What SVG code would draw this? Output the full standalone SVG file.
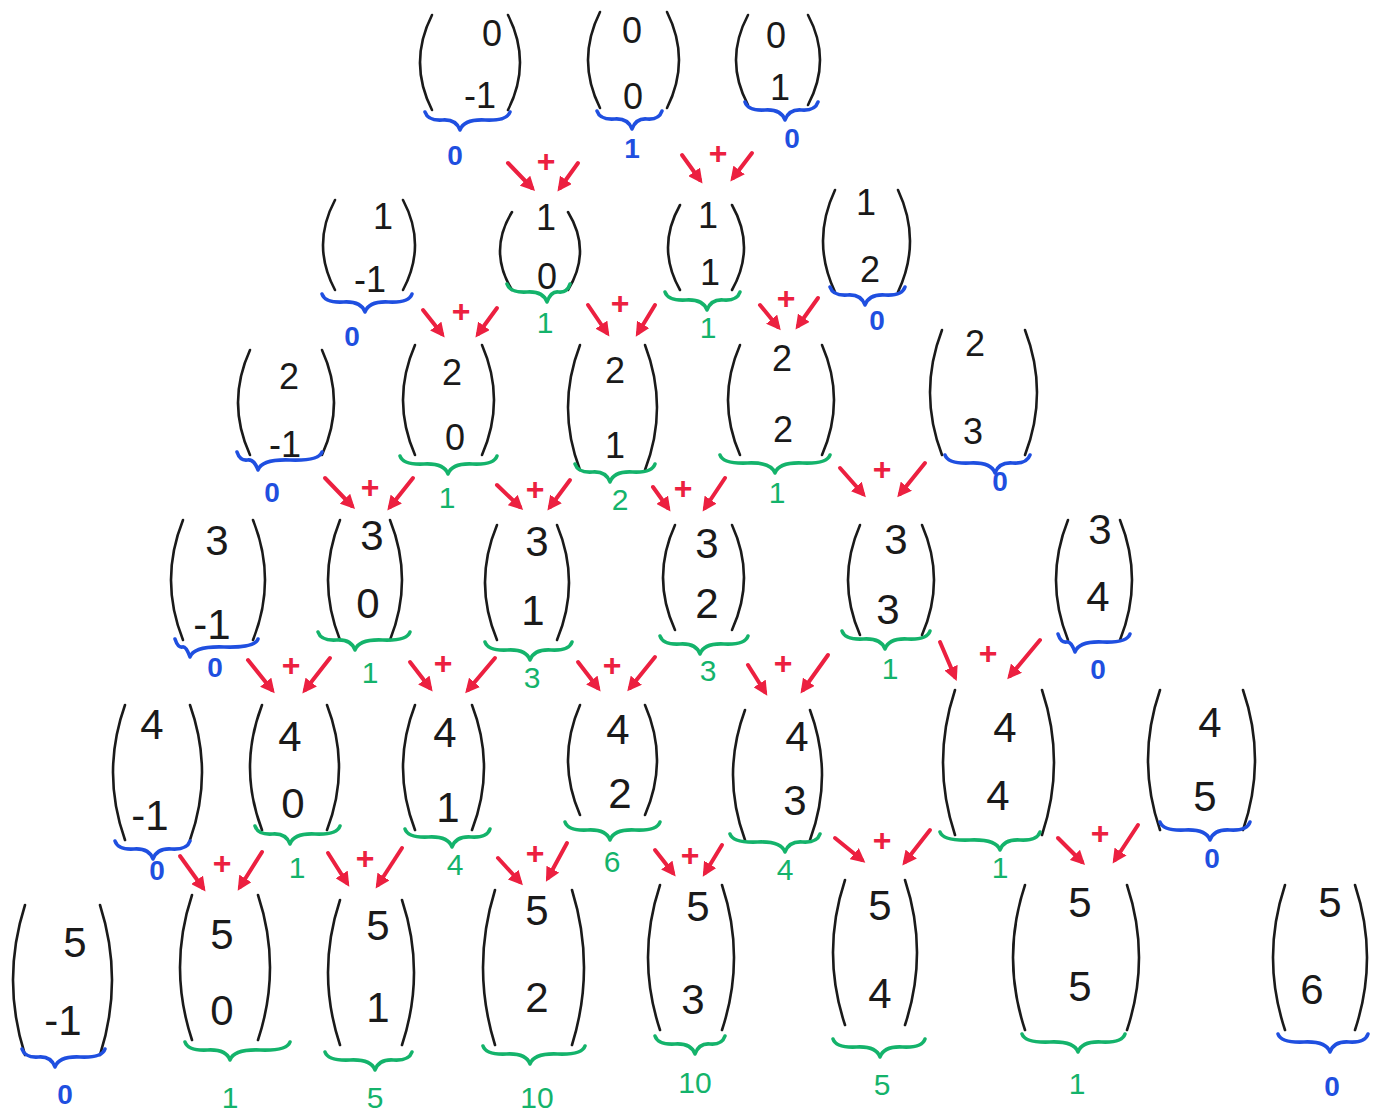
<svg xmlns="http://www.w3.org/2000/svg" width="1375" height="1112" viewBox="0 0 1375 1112">
<style>
.p{fill:none;stroke:#1a1a1a;stroke-width:2.6;stroke-linecap:round}
.d{font-family:"Liberation Sans",Arial,sans-serif;font-size:36px;fill:#1a1a1a;text-anchor:middle}
.D{font-family:"Liberation Sans",Arial,sans-serif;font-size:42px;fill:#1a1a1a;text-anchor:middle}
.bb{fill:none;stroke:#1f4fe0;stroke-width:3.6;stroke-linecap:round;stroke-linejoin:round}
.gb{fill:none;stroke:#14b36b;stroke-width:3.6;stroke-linecap:round;stroke-linejoin:round}
.bv{font-family:"Liberation Sans",Arial,sans-serif;font-size:28px;font-weight:bold;fill:#1f4fe0;text-anchor:middle}
.gv{font-family:"Liberation Sans",Arial,sans-serif;font-size:30px;fill:#14b36b;text-anchor:middle}
.ar{stroke:#ec2040;stroke-width:4;stroke-linecap:round;marker-end:url(#ah)}
.pl{font-family:"Liberation Sans",Arial,sans-serif;font-size:32px;font-weight:bold;fill:#ec2040;text-anchor:middle}
</style>
<defs>
<marker id="ah" viewBox="0 0 10 10" refX="7" refY="5" markerWidth="3.6" markerHeight="3.6" orient="auto">
<path d="M0,0 L10,5 L0,10 z" fill="#ec2040"/>
</marker>
</defs>
<rect width="1375" height="1112" fill="#ffffff"/>

<g id="nodes">
<g id="n0k-1"><path class="p" d="M432,15 Q408,62.5 432,110"/><path class="p" d="M508,15 Q532,62.5 508,110"/><text class="d" x="492" y="46">0</text><text class="d" x="480" y="108">-1</text><path class="bb" d="M425,112 Q428,121 442.5,120 Q456,119 460,130 Q464,119 485,120 Q507,121 510,112"/><text class="bv" x="455" y="165">0</text></g>
<g id="n0k0"><path class="p" d="M600,12 Q576,60 600,108"/><path class="p" d="M667,12 Q691,60 667,108"/><text class="d" x="632" y="43">0</text><text class="d" x="633" y="109">0</text><path class="bb" d="M597,111 Q600,120 614.5,119 Q628,118 632,129 Q636,118 647,119 Q659,120 662,111"/><text class="bv" x="632" y="158">1</text></g>
<g id="n0k1"><path class="p" d="M748,15 Q724,60 748,105"/><path class="p" d="M808,15 Q832,60 808,105"/><text class="d" x="776" y="48">0</text><text class="d" x="780" y="100">1</text><path class="bb" d="M745,102 Q748,111 765,110 Q781,109 785,120 Q789,109 801.5,110 Q815,111 818,102"/><text class="bv" x="792" y="148">0</text></g>

<g id="n1k-1"><path class="p" d="M335,200 Q311,245 335,290"/><path class="p" d="M403,200 Q427,245 403,290"/><text class="d" x="383" y="229">1</text><text class="d" x="370" y="292">-1</text><path class="bb" d="M322,294 Q325,303 343.5,302 Q361,301 365,312 Q369,301 388.5,302 Q409,303 412,294"/><text class="bv" x="352" y="346">0</text></g>
<g id="n1k0"><path class="p" d="M512,212 Q488,251 512,290"/><path class="p" d="M568,212 Q592,251 568,290"/><text class="d" x="546" y="230">1</text><text class="d" x="547" y="289">0</text><path class="gb" d="M507,284 Q510,293 527,292 Q543,291 547,302 Q551,291 558.5,292 Q567,293 570,284"/><text class="gv" x="545" y="333">1</text></g>
<g id="n1k1"><path class="p" d="M680,205 Q656,247.5 680,290"/><path class="p" d="M732,205 Q756,247.5 732,290"/><text class="d" x="708" y="228">1</text><text class="d" x="710" y="285">1</text><path class="gb" d="M665,292 Q668,301 686,300 Q703,299 707,310 Q711,299 723.5,300 Q737,301 740,292"/><text class="gv" x="708" y="338">1</text></g>
<g id="n1k2"><path class="p" d="M835,190 Q811,241 835,292"/><path class="p" d="M898,190 Q922,241 898,292"/><text class="d" x="866" y="215">1</text><text class="d" x="870" y="282">2</text><path class="bb" d="M830,287 Q833,296 847.5,295 Q861,294 865,305 Q869,294 885,295 Q902,296 905,287"/><text class="bv" x="877" y="330">0</text></g>

<g id="n2k-1"><path class="p" d="M250,350 Q226,402.5 250,455"/><path class="p" d="M322,350 Q346,402.5 322,455"/><text class="d" x="289" y="389">2</text><text class="d" x="285" y="457">-1</text><path class="bb" d="M237,452 Q240,461 247.5,460 Q254,459 258,470 Q262,459 290,460 Q319,461 322,452"/><text class="bv" x="272" y="502">0</text></g>
<g id="n2k0"><path class="p" d="M415,345 Q391,400 415,455"/><path class="p" d="M482,345 Q506,400 482,455"/><text class="d" x="452" y="385">2</text><text class="d" x="455" y="450">0</text><path class="gb" d="M400,456 Q403,465 424,464 Q444,463 448,474 Q452,463 472.5,464 Q494,465 497,456"/><text class="gv" x="447" y="508">1</text></g>
<g id="n2k1"><path class="p" d="M580,345 Q556,407.5 580,470"/><path class="p" d="M645,345 Q669,407.5 645,470"/><text class="d" x="615" y="383">2</text><text class="d" x="615" y="458">1</text><path class="gb" d="M575,464 Q578,473 592.5,472 Q606,471 610,482 Q614,471 632.5,472 Q652,473 655,464"/><text class="gv" x="620" y="510">2</text></g>
<g id="n2k2"><path class="p" d="M740,345 Q716,400 740,455"/><path class="p" d="M822,345 Q846,400 822,455"/><text class="d" x="782" y="371">2</text><text class="d" x="783" y="442">2</text><path class="gb" d="M720,455 Q723,464 747.5,463 Q771,462 775,473 Q779,462 802.5,463 Q827,464 830,455"/><text class="gv" x="777" y="503">1</text></g>
<g id="n2k3"><path class="p" d="M942,330 Q918,392.5 942,455"/><path class="p" d="M1025,330 Q1049,392.5 1025,455"/><text class="d" x="975" y="356">2</text><text class="d" x="973" y="444">3</text><path class="bb" d="M945,455 Q948,464 970,463 Q991,462 995,473 Q999,462 1012.5,463 Q1027,464 1030,455"/><text class="bv" x="1000" y="491">0</text></g>

<g id="n3k-1"><path class="p" d="M183,520 Q159,580 183,640"/><path class="p" d="M253,520 Q277,580 253,640"/><text class="D" x="217" y="555">3</text><text class="D" x="212" y="639">-1</text><path class="bb" d="M175,639 Q178,648 182.5,647 Q186,646 190,657 Q194,646 224,647 Q255,648 258,639"/><text class="bv" x="215" y="677">0</text></g>
<g id="n3k0"><path class="p" d="M340,520 Q316,580 340,640"/><path class="p" d="M390,520 Q414,580 390,640"/><text class="D" x="372" y="550">3</text><text class="D" x="368" y="618">0</text><path class="gb" d="M318,632 Q321,641 336.5,640 Q351,639 355,650 Q359,639 382.5,640 Q407,641 410,632"/><text class="gv" x="370" y="683">1</text></g>
<g id="n3k1"><path class="p" d="M497,525 Q473,582.5 497,640"/><path class="p" d="M557,525 Q581,582.5 557,640"/><text class="D" x="537" y="556">3</text><text class="D" x="533" y="625">1</text><path class="gb" d="M485,642 Q488,651 507.5,650 Q526,649 530,660 Q534,649 551,650 Q569,651 572,642"/><text class="gv" x="532" y="688">3</text></g>
<g id="n3k2"><path class="p" d="M675,525 Q651,577.5 675,630"/><path class="p" d="M732,525 Q756,577.5 732,630"/><text class="D" x="707" y="558">3</text><text class="D" x="707" y="618">2</text><path class="gb" d="M660,636 Q663,645 680,644 Q696,643 700,654 Q704,643 724,644 Q745,645 748,636"/><text class="gv" x="708" y="681">3</text></g>
<g id="n3k3"><path class="p" d="M860,525 Q836,580 860,635"/><path class="p" d="M922,525 Q946,580 922,635"/><text class="D" x="896" y="554">3</text><text class="D" x="888" y="624">3</text><path class="gb" d="M842,631 Q845,640 863.5,639 Q881,638 885,649 Q889,638 907.5,639 Q927,640 930,631"/><text class="gv" x="890" y="679">1</text></g>
<g id="n3k4"><path class="p" d="M1068,520 Q1044,580 1068,640"/><path class="p" d="M1120,520 Q1144,580 1120,640"/><text class="D" x="1100" y="544">3</text><text class="D" x="1098" y="611">4</text><path class="bb" d="M1058,634 Q1061,643 1066.5,642 Q1071,641 1075,652 Q1079,641 1102.5,642 Q1127,643 1130,634"/><text class="bv" x="1098" y="679">0</text></g>

<g id="n4k-1"><path class="p" d="M125,705 Q101,772.5 125,840"/><path class="p" d="M190,705 Q214,772.5 190,840"/><text class="D" x="152" y="739">4</text><text class="D" x="150" y="830">-1</text><path class="bb" d="M115,841 Q118,850 134,849 Q149,848 153,859 Q157,848 171.5,849 Q187,850 190,841"/><text class="bv" x="157" y="880">0</text></g>
<g id="n4k0"><path class="p" d="M262,705 Q238,767.5 262,830"/><path class="p" d="M327,705 Q351,767.5 327,830"/><text class="D" x="290" y="751">4</text><text class="D" x="293" y="818">0</text><path class="gb" d="M255,826 Q258,835 272.5,834 Q286,833 290,844 Q294,833 315,834 Q337,835 340,826"/><text class="gv" x="297" y="878">1</text></g>
<g id="n4k1"><path class="p" d="M415,705 Q391,767.5 415,830"/><path class="p" d="M472,705 Q496,767.5 472,830"/><text class="D" x="445" y="747">4</text><text class="D" x="448" y="822">1</text><path class="gb" d="M405,829 Q408,838 428.5,837 Q448,836 452,847 Q456,836 471,837 Q487,838 490,829"/><text class="gv" x="455" y="875">4</text></g>
<g id="n4k2"><path class="p" d="M580,705 Q556,760 580,815"/><path class="p" d="M645,705 Q669,760 645,815"/><text class="D" x="618" y="744">4</text><text class="D" x="620" y="808">2</text><path class="gb" d="M565,822 Q568,831 587.5,830 Q606,829 610,840 Q614,829 635,830 Q657,831 660,822"/><text class="gv" x="612" y="872">6</text></g>
<g id="n4k3"><path class="p" d="M745,710 Q721,775 745,840"/><path class="p" d="M810,710 Q834,775 810,840"/><text class="D" x="797" y="751">4</text><text class="D" x="795" y="815">3</text><path class="gb" d="M730,834 Q733,843 757.5,842 Q781,841 785,852 Q789,841 802.5,842 Q817,843 820,834"/><text class="gv" x="785" y="880">4</text></g>
<g id="n4k4"><path class="p" d="M955,690 Q931,762.5 955,835"/><path class="p" d="M1042,690 Q1066,762.5 1042,835"/><text class="D" x="1005" y="742">4</text><text class="D" x="998" y="810">4</text><path class="gb" d="M940,832 Q943,841 970,840 Q996,839 1000,850 Q1004,839 1020,840 Q1037,841 1040,832"/><text class="gv" x="1000" y="878">1</text></g>
<g id="n4k5"><path class="p" d="M1160,690 Q1136,760 1160,830"/><path class="p" d="M1243,690 Q1267,760 1243,830"/><text class="D" x="1210" y="737">4</text><text class="D" x="1205" y="811">5</text><path class="bb" d="M1160,822 Q1163,831 1185,830 Q1206,829 1210,840 Q1214,829 1230,830 Q1247,831 1250,822"/><text class="bv" x="1212" y="868">0</text></g>

<g id="n5k-1"><path class="p" d="M25,905 Q1,980 25,1055"/><path class="p" d="M100,905 Q124,980 100,1055"/><text class="D" x="75" y="957">5</text><text class="D" x="63" y="1035">-1</text><path class="bb" d="M22,1049 Q25,1058 38.5,1057 Q51,1056 55,1067 Q59,1056 80,1057 Q102,1058 105,1049"/><text class="bv" x="65" y="1104">0</text></g>
<g id="n5k0"><path class="p" d="M192,895 Q168,967.5 192,1040"/><path class="p" d="M258,895 Q282,967.5 258,1040"/><text class="D" x="222" y="949">5</text><text class="D" x="222" y="1025">0</text><path class="gb" d="M185,1042 Q188,1051 207.5,1050 Q226,1049 230,1060 Q234,1049 260,1050 Q287,1051 290,1042"/><text class="gv" x="230" y="1108">1</text></g>
<g id="n5k1"><path class="p" d="M340,900 Q316,972.5 340,1045"/><path class="p" d="M402,900 Q426,972.5 402,1045"/><text class="D" x="378" y="940">5</text><text class="D" x="378" y="1022">1</text><path class="gb" d="M325,1052 Q328,1061 350,1060 Q371,1059 375,1070 Q379,1059 393.5,1060 Q409,1061 412,1052"/><text class="gv" x="375" y="1108">5</text></g>
<g id="n5k2"><path class="p" d="M495,890 Q471,967.5 495,1045"/><path class="p" d="M572,890 Q596,967.5 572,1045"/><text class="D" x="537" y="925">5</text><text class="D" x="537" y="1012">2</text><path class="gb" d="M483,1046 Q486,1055 506.5,1054 Q526,1053 530,1064 Q534,1053 557.5,1054 Q582,1055 585,1046"/><text class="gv" x="537" y="1108">10</text></g>
<g id="n5k3"><path class="p" d="M660,885 Q636,957.5 660,1030"/><path class="p" d="M722,885 Q746,957.5 722,1030"/><text class="D" x="698" y="921">5</text><text class="D" x="693" y="1014">3</text><path class="gb" d="M655,1036 Q658,1045 675,1044 Q691,1043 695,1054 Q699,1043 710,1044 Q722,1045 725,1036"/><text class="gv" x="695" y="1093">10</text></g>
<g id="n5k4"><path class="p" d="M845,880 Q821,952.5 845,1025"/><path class="p" d="M905,880 Q929,952.5 905,1025"/><text class="D" x="880" y="920">5</text><text class="D" x="880" y="1008">4</text><path class="gb" d="M833,1039 Q836,1048 856.5,1047 Q876,1046 880,1057 Q884,1046 902.5,1047 Q922,1048 925,1039"/><text class="gv" x="882" y="1095">5</text></g>
<g id="n5k5"><path class="p" d="M1025,885 Q1001,957.5 1025,1030"/><path class="p" d="M1127,885 Q1151,957.5 1127,1030"/><text class="D" x="1080" y="917">5</text><text class="D" x="1080" y="1001">5</text><path class="gb" d="M1022,1034 Q1025,1043 1050,1042 Q1074,1041 1078,1052 Q1082,1041 1101.5,1042 Q1122,1043 1125,1034"/><text class="gv" x="1077" y="1094">1</text></g>
<g id="n5k6"><path class="p" d="M1285,885 Q1261,957.5 1285,1030"/><path class="p" d="M1355,885 Q1379,957.5 1355,1030"/><text class="D" x="1330" y="917">5</text><text class="D" x="1312" y="1004">6</text><path class="bb" d="M1278,1034 Q1281,1043 1304,1042 Q1326,1041 1330,1052 Q1334,1041 1349,1042 Q1365,1043 1368,1034"/><text class="bv" x="1332" y="1096">0</text></g>
</g>

<g id="connectors">
<line class="ar" x1="508" y1="163" x2="532" y2="188"/><text class="pl" x="546" y="172">+</text><line class="ar" x1="578" y1="163" x2="560" y2="188"/>
<line class="ar" x1="682" y1="155" x2="700" y2="180"/><text class="pl" x="718" y="164">+</text><line class="ar" x1="752" y1="153" x2="733" y2="178"/>

<line class="ar" x1="423" y1="310" x2="442" y2="334"/><text class="pl" x="461" y="322">+</text><line class="ar" x1="497" y1="308" x2="478" y2="334"/>
<line class="ar" x1="588" y1="305" x2="607" y2="333"/><text class="pl" x="620" y="314">+</text><line class="ar" x1="655" y1="305" x2="638" y2="333"/>
<line class="ar" x1="760" y1="305" x2="778" y2="327"/><text class="pl" x="786" y="309">+</text><line class="ar" x1="818" y1="298" x2="798" y2="326"/>

<line class="ar" x1="325" y1="478" x2="352" y2="506"/><text class="pl" x="370" y="498">+</text><line class="ar" x1="413" y1="478" x2="390" y2="507"/>
<line class="ar" x1="497" y1="485" x2="520" y2="507"/><text class="pl" x="535" y="500">+</text><line class="ar" x1="570" y1="480" x2="550" y2="507"/>
<line class="ar" x1="653" y1="487" x2="668" y2="508"/><text class="pl" x="683" y="499">+</text><line class="ar" x1="725" y1="478" x2="705" y2="508"/>
<line class="ar" x1="840" y1="468" x2="863" y2="494"/><text class="pl" x="882" y="480">+</text><line class="ar" x1="925" y1="463" x2="900" y2="494"/>

<line class="ar" x1="248" y1="660" x2="272" y2="690"/><text class="pl" x="291" y="676">+</text><line class="ar" x1="330" y1="658" x2="305" y2="690"/>
<line class="ar" x1="410" y1="662" x2="430" y2="688"/><text class="pl" x="443" y="674">+</text><line class="ar" x1="495" y1="658" x2="468" y2="690"/>
<line class="ar" x1="578" y1="662" x2="598" y2="688"/><text class="pl" x="612" y="676">+</text><line class="ar" x1="655" y1="657" x2="630" y2="688"/>
<line class="ar" x1="748" y1="665" x2="765" y2="692"/><text class="pl" x="783" y="674">+</text><line class="ar" x1="828" y1="655" x2="803" y2="690"/>
<line class="ar" x1="940" y1="642" x2="955" y2="677"/><text class="pl" x="988" y="664">+</text><line class="ar" x1="1040" y1="640" x2="1010" y2="676"/>

<line class="ar" x1="180" y1="856" x2="203" y2="888"/><text class="pl" x="222" y="874">+</text><line class="ar" x1="262" y1="852" x2="240" y2="887"/>
<line class="ar" x1="328" y1="853" x2="347" y2="883"/><text class="pl" x="365" y="869">+</text><line class="ar" x1="402" y1="848" x2="378" y2="885"/>
<line class="ar" x1="498" y1="858" x2="520" y2="882"/><text class="pl" x="535" y="864">+</text><line class="ar" x1="567" y1="843" x2="548" y2="878"/>
<line class="ar" x1="655" y1="850" x2="673" y2="873"/><text class="pl" x="690" y="866">+</text><line class="ar" x1="722" y1="845" x2="705" y2="873"/>
<line class="ar" x1="835" y1="838" x2="862" y2="860"/><text class="pl" x="882" y="851">+</text><line class="ar" x1="930" y1="830" x2="905" y2="862"/>
<line class="ar" x1="1058" y1="838" x2="1082" y2="862"/><text class="pl" x="1100" y="844">+</text><line class="ar" x1="1138" y1="825" x2="1115" y2="860"/>
</g>
</svg>
